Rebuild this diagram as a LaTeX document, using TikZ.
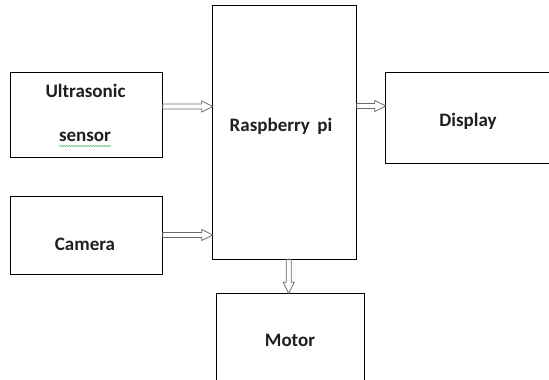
\documentclass[tikz,border=0pt]{standalone}
\usepackage{fontspec}
\setmainfont{Carlito}
\usetikzlibrary{decorations.pathmorphing}
\definecolor{arrowgray}{HTML}{6A6A6A}
\definecolor{squig}{HTML}{5CB85C}
\begin{document}
\begin{tikzpicture}[x=1pt,y=-1pt,
  blockbox/.style={draw=black, line width=0.8pt, inner sep=0pt, outer sep=0pt, rectangle},
  lbl/.style={anchor=base, inner sep=0pt, font=\fontsize{19}{22}\selectfont\bfseries, text=black!88},
  harrow/.style={draw=arrowgray, line width=0.8pt, line join=miter,
    to path={([yshift=2.5pt]\tikztostart) -- ([xshift=-11pt,yshift=2.5pt]\tikztotarget)
      -- ([xshift=-11pt,yshift=5.5pt]\tikztotarget) -- (\tikztotarget)
      -- ([xshift=-11pt,yshift=-5.5pt]\tikztotarget) -- ([xshift=-11pt,yshift=-2.5pt]\tikztotarget)
      -- ([yshift=-2.5pt]\tikztostart) -- cycle}},
  varrow/.style={draw=arrowgray, line width=0.8pt, line join=miter,
    to path={([xshift=-2.5pt]\tikztostart) -- ([xshift=-2.5pt,yshift=11pt]\tikztotarget)
      -- ([xshift=-5.5pt,yshift=11pt]\tikztotarget) -- (\tikztotarget)
      -- ([xshift=5.5pt,yshift=11pt]\tikztotarget) -- ([xshift=2.5pt,yshift=11pt]\tikztotarget)
      -- ([xshift=2.5pt]\tikztostart) -- cycle}}
]
\useasboundingbox (0,0) rectangle (549,380);
\clip (0,0) rectangle (549,380);
\fill[white] (0,0) rectangle (549,380);

% boxes
\node[blockbox, minimum width=152.7pt, minimum height=85pt] (u) at (86.35,115.2) {};
\node[blockbox, minimum width=152.7pt, minimum height=77.6pt] (c) at (86.35,235.5) {};
\node[blockbox, minimum width=144pt, minimum height=253.6pt] (r) at (284.7,132.5) {};
\node[blockbox, minimum width=174.3pt, minimum height=90.6pt] (d) at (472.85,118) {};
\node[blockbox, minimum width=147.6pt, minimum height=106.7pt] (m) at (290.5,346.65) {};

% labels
\node[lbl] (ut) at (85.5,97.7) {Ultrasonic};
\node[lbl] (se) at (85,141.7) {sensor};
\node[lbl] (ca) at (85,250.7) {Camera};
\node[lbl] (rp) at (281,131.7) {Raspberry\, pi};
\node[lbl] (di) at (468,126) {Display};
\node[lbl] (mo) at (290,346.7) {Motor};

% spell-check squiggle under "sensor"
\draw[squig, line width=0.5pt, decorate, decoration={snake, amplitude=0.7pt, segment length=2.4pt}]
  ([yshift=-4.3pt]se.base west) -- ([yshift=-4.3pt]se.base east);

% connector end points
\coordinate (a1s) at (u.east |- 0,106.5);
\coordinate (a1t) at (a1s -| r.west);
\coordinate (a2s) at (c.east |- 0,235);
\coordinate (a2t) at (a2s -| r.west);
\coordinate (a3s) at (r.east |- 0,106);
\coordinate (a3t) at (a3s -| d.west);
\coordinate (a4s) at (r.south -| 288.7,0);
\coordinate (a4t) at (a4s |- m.north);

% hollow block arrows
\draw[harrow] (a1s) to (a1t);
\draw[harrow] (a2s) to (a2t);
\draw[harrow] (a3s) to (a3t);
\draw[varrow] (a4s) to (a4t);
\end{tikzpicture}
\end{document}
